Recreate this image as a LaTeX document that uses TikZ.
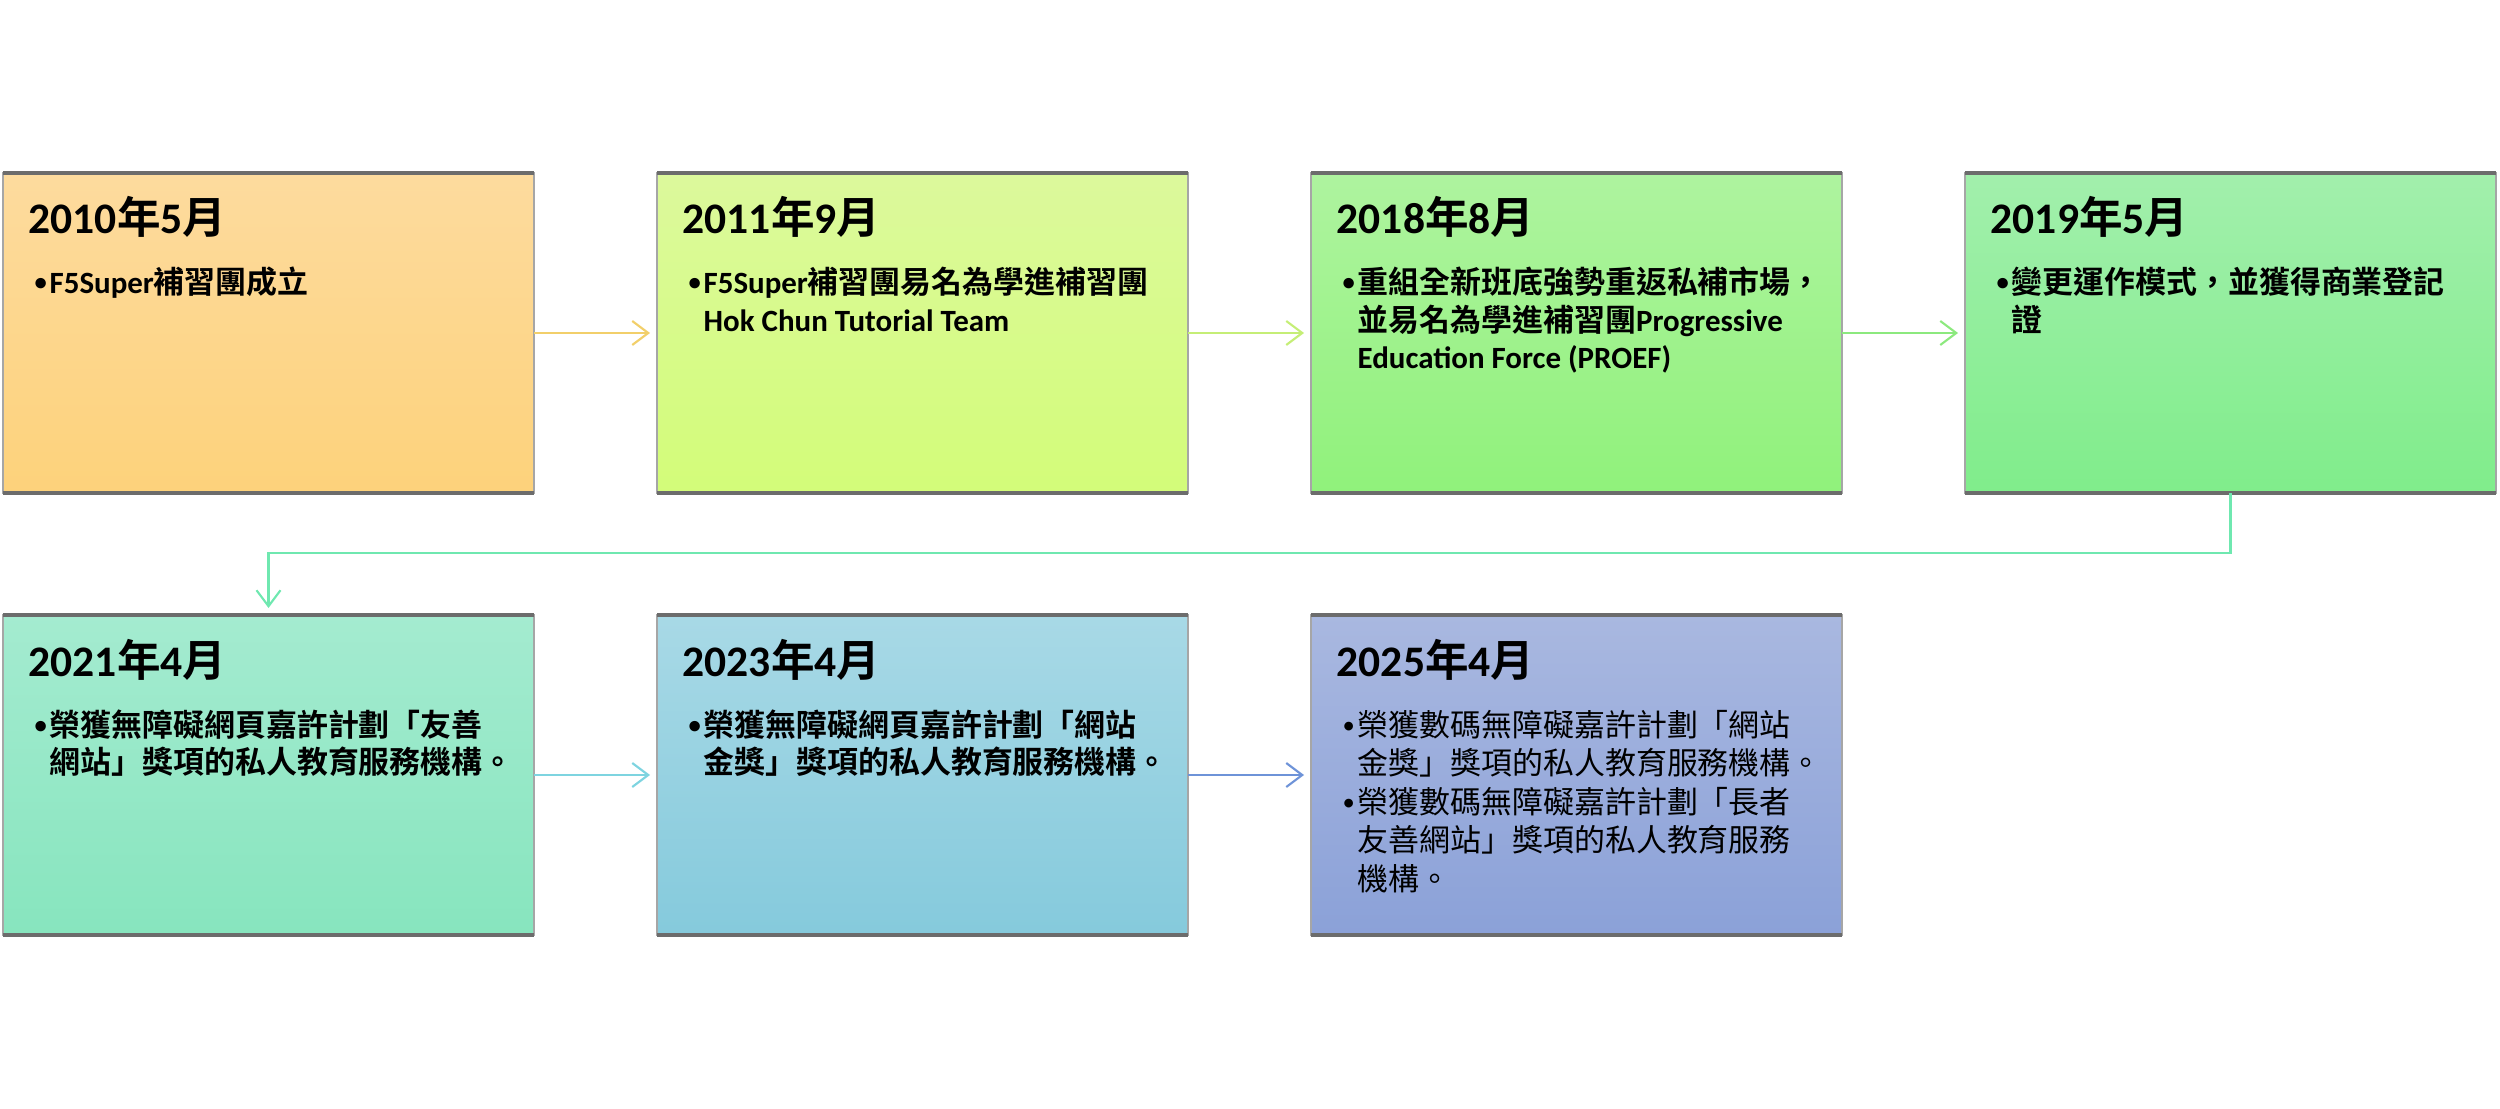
\documentclass[tikz,border=0pt]{standalone}
\usepackage{fontspec}
\setmainfont{Carlito}
\newfontfamily\cjk{Noto Sans CJK TC}[BoldFont={Noto Sans CJK TC Bold}]
\usetikzlibrary{positioning,arrows.meta}
\definecolor{fillAt}{HTML}{FDDB9E}\definecolor{fillAb}{HTML}{FDD27B}
\definecolor{fillBt}{HTML}{DCF99C}\definecolor{fillBb}{HTML}{D3FC79}
\definecolor{fillCt}{HTML}{AEF39F}\definecolor{fillCb}{HTML}{90F27B}
\definecolor{fillDt}{HTML}{A2EFAC}\definecolor{fillDb}{HTML}{80ED8B}
\definecolor{fillEt}{HTML}{A4EBD0}\definecolor{fillEb}{HTML}{87E5BE}
\definecolor{fillFt}{HTML}{A8D9E6}\definecolor{fillFb}{HTML}{85CADC}
\definecolor{fillGt}{HTML}{A9B8E0}\definecolor{fillGb}{HTML}{8BA1D8}
\definecolor{arA}{HTML}{F2CF6A}\definecolor{arB}{HTML}{C5EE76}
\definecolor{arC}{HTML}{8CE97E}\definecolor{arD}{HTML}{6FE8B0}
\definecolor{arE}{HTML}{7ED4E0}\definecolor{arF}{HTML}{6E93D8}
\newcommand\zh[1]{{\cjk #1}}
\newcommand\bul{\makebox[1.7mm][l]{\hspace{0.2mm}\raisebox{0.2ex}{\fontsize{7}{7}\selectfont•}}}
\newcommand\ind{\hspace*{1.7mm}}
\newcommand\lines[1]{\parbox[t]{5cm}{\raggedright #1}}
\begin{document}
\begin{tikzpicture}[
	stage/.style={draw=gray!70,line width=0.4pt,minimum width=5.31cm,minimum height=3.2cm,inner sep=0pt,outer sep=0pt},
	year/.style={anchor=base west,inner sep=0pt,font=\fontsize{12.4}{14}\selectfont\bfseries},
	info/.style={anchor=base west,inner sep=0pt,font=\fontsize{8.8}{10.6}\selectfont#1},
	info/.default={},
	rim/.style={gray!85!black,line width=1.2pt},
	link/.style={line width=0.6pt,-{Straight Barb[length=1.6mm,width=2.4mm]},shorten >=0.07cm}
]
	\useasboundingbox (0,0) rectangle (25,-11.09);
	% first row
	\node[stage,top color=fillAt,bottom color=fillAb] (s1) at (2.685,-3.33) {};
	\node[stage,top color=fillBt,bottom color=fillBb,right=1.23cm of s1] (s2) {};
	\node[stage,top color=fillCt,bottom color=fillCb,right=1.23cm of s2] (s3) {};
	\node[stage,top color=fillDt,bottom color=fillDb,right=1.23cm of s3] (s4) {};
	% second row
	\node[stage,top color=fillEt,bottom color=fillEb,below=1.22cm of s1] (s5) {};
	\node[stage,top color=fillFt,bottom color=fillFb,right=1.23cm of s5] (s6) {};
	\node[stage,top color=fillGt,bottom color=fillGb,right=1.23cm of s6] (s7) {};
	\foreach \n in {1,...,7} {
		\draw[rim] (s\n.north west) -- (s\n.north east);
		\draw[rim] (s\n.south west) -- (s\n.south east);
	}
	\foreach \n/\y/\m in {1/2010/5,2/2011/9,3/2018/8,4/2019/5,5/2021/4,6/2023/4,7/2025/4}
		\node[year] (y\n) at ([shift={(0.25,-0.61)}]s\n.north west) {\y\zh{年}\m\zh{月}};
	\node[info=\bfseries] (t1) at ([shift={(0.29,-1.21)}]s1.north west) {\lines{\bul F5Super\zh{補習團成立}}};
	\node[info=\bfseries] (t2) at ([shift={(0.29,-1.21)}]s2.north west) {\lines{\bul F5Super\zh{補習團易名為學進補習團}\\\ind Hok Chun Tutorial Team}};
	\node[info=\bfseries] (t3) at ([shift={(0.29,-1.21)}]s3.north west) {\lines{\bul\zh{重組全新班底強勢重返私補市場，}\\\ind\zh{並易名為學進補習團}Progressive\\\ind Education Force (PROEF)}};
	\node[info=\bfseries] (t4) at ([shift={(0.29,-1.21)}]s4.north west) {\lines{\bul\zh{變更運作模式，並獲得商業登記}\\\ind\zh{證}}};
	\node[info=\bfseries] (t5) at ([shift={(0.29,-1.21)}]s5.north west) {\lines{\bul\zh{榮獲無障礙網頁嘉許計劃「友善}\\\ind\zh{網站」獎項的私人教育服務機構。}}};
	\node[info=\bfseries] (t6) at ([shift={(0.29,-1.21)}]s6.north west) {\lines{\bul\zh{榮獲無障礙網頁嘉許計劃「網站}\\\ind\zh{金獎」獎項的私人教育服務機構。}}};
	\node[info=\fontsize{8.8}{11}\selectfont] (t7) at ([shift={(0.29,-1.21)}]s7.north west) {\lines{\bul\zh{榮獲數碼無障礙嘉許計劃「網站}\\\ind\zh{金獎」獎項的私人教育服務機構。}\\\bul\zh{榮獲數碼無障礙嘉許計劃「長者}\\\ind\zh{友善網站」獎項的私人教育服務}\\\ind\zh{機構。}}};
	% connectors
	\foreach \a/\b/\c in {s1/s2/arA,s2/s3/arB,s3/s4/arC,s5/s6/arE,s6/s7/arF}
		\draw[link,\c] (\a) -- (\b);
	\coordinate (turn) at (0,-5.53);
	\draw[link,arD] (s4.south) -- (s4.south |- turn) -| (s5.north);
\end{tikzpicture}
\end{document}
